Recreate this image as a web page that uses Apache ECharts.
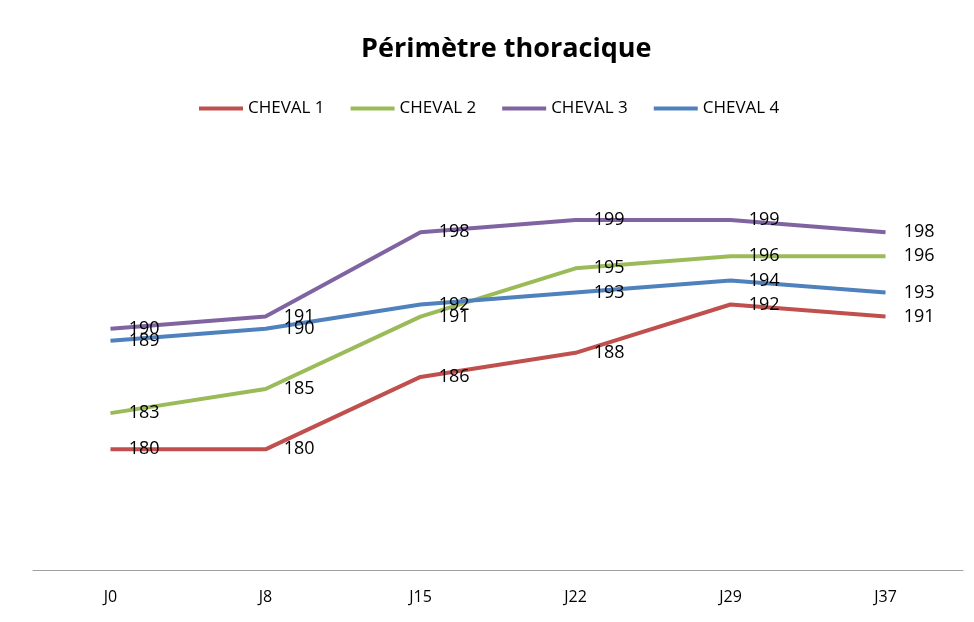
<!DOCTYPE html>
<html lang="fr">
<head>
    <meta charset="utf-8"/>
    <title>Périmètre thoracique</title>
    <script src="https://cdn.jsdelivr.net/npm/echarts@6/dist/echarts.min.js"></script>
</head>
<body style="margin:0;background:#fff;">
<div id="main" style="width: 974px;height: 622px;"></div>
<script type="text/javascript">
    // jours de mesure
    var jours = ['J0', 'J8', 'J15', 'J22', 'J29', 'J37'];

    var cheval1 = [180, 180, 186, 188, 192, 191];
    var cheval2 = [183, 185, 191, 195, 196, 196];
    var cheval3 = [190, 191, 198, 199, 199, 198];
    var cheval4 = [189, 190, 192, 193, 194, 193];

    var noms = ['CHEVAL 1', 'CHEVAL 2', 'CHEVAL 3', 'CHEVAL 4'];
    var couleurs = ['#C0504D', '#9BBB59', '#8064A2', '#4F81BD'];
    var donnees = [cheval1, cheval2, cheval3, cheval4];

    var police = "'Open Sans', 'Noto Sans', sans-serif";

    var series = [];
    for (var i = 0; i < donnees.length; i++) {
        series.push({
            name: noms[i],
            type: 'line',
            data: donnees[i],
            // symbole minuscule : sert seulement a porter les etiquettes
            symbol: 'circle',
            symbolSize: 0.5,
            showSymbol: true,
            itemStyle: {color: couleurs[i]},
            color: couleurs[i],
            lineStyle: {width: 4, color: couleurs[i]},
            label: {
                show: true,
                position: 'right',
                distance: 18,
                offset: [0, 5],
                color: '#000',
                fontSize: 18,
                fontFamily: police
            },
            labelLayout: {hideOverlap: false},
            animation: false
        });
    }

    var myChart = echarts.init(document.getElementById('main'));
    myChart.setOption({
        title: {
            text: 'Périmètre thoracique',
            left: 356,
            top: 31,
            textStyle: {fontSize: 27, fontWeight: 'bold', color: '#000', fontFamily: police}
        },
        legend: {
            top: 95,
            left: 194,
            itemWidth: 44,
            itemHeight: 4,
            itemGap: 26,
            icon: 'rect',
            textStyle: {fontSize: 17, color: '#000', fontFamily: police},
            data: noms
        },
        grid: {left: 33, right: 11, top: 208, bottom: 52},
        xAxis: {
            type: 'category',
            data: jours,
            boundaryGap: true,
            axisLine: {lineStyle: {color: '#A0A0A0', width: 1}},
            axisTick: {show: false},
            axisLabel: {color: '#000', fontSize: 16, margin: 19, fontFamily: police}
        },
        yAxis: {
            type: 'value',
            min: 170,
            max: 200,
            show: false,
            splitLine: {show: false}
        },
        series: series
    });
</script>
</body>
</html>
